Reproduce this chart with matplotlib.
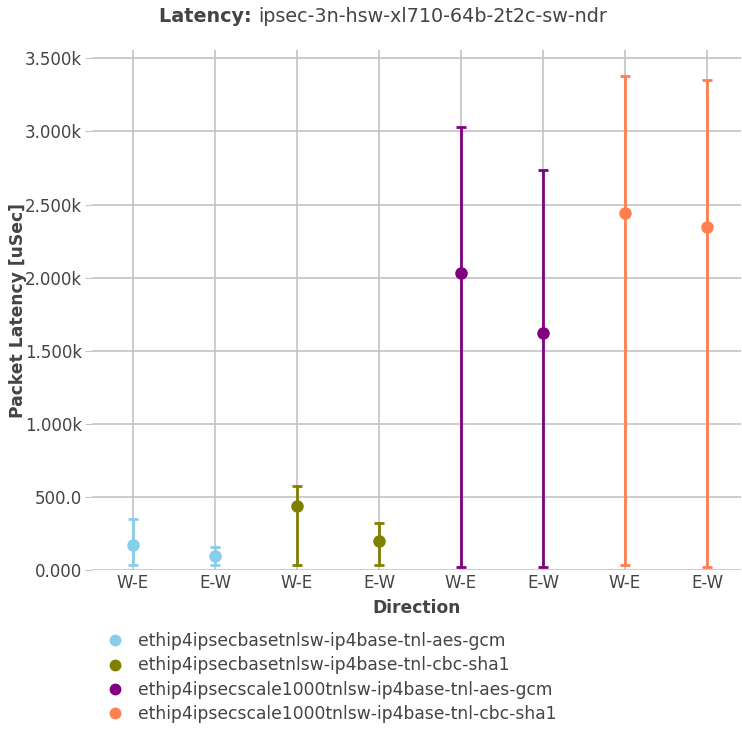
import numpy as np
import matplotlib
matplotlib.use("Agg")
import matplotlib.pyplot as plt

plt.rcParams['font.family'] = ['DejaVu Sans']

directions = ["W-E", "E-W", "W-E", "E-W", "W-E", "E-W", "W-E", "E-W"]
series_names = [
    "ethip4ipsecbasetnlsw-ip4base-tnl-aes-gcm",
    "ethip4ipsecbasetnlsw-ip4base-tnl-cbc-sha1",
    "ethip4ipsecscale1000tnlsw-ip4base-tnl-aes-gcm",
    "ethip4ipsecscale1000tnlsw-ip4base-tnl-cbc-sha1",
]
colors = ["#87ceeb", "#808000", "#800080", "#ff7f50"]
# per series: (W-E, E-W)
avg = [[171, 94], [438, 198], [2031, 1621], [2445, 2343]]
hi = [[349, 160], [575, 324], [3028, 2733], [3379, 3350]]
lo = [[34, 34], [34, 34], [20, 20], [34, 20]]

fig = plt.figure(figsize=(7.42, 7.33), dpi=100)
ax = fig.add_axes([92 / 742, 1 - 570 / 733, 649 / 742, 520 / 733])

grid_c = "#c4c4c4"
for k in range(len(directions)):
    ax.axvline(k, color=grid_c, lw=1.2, zorder=0)
ax.set_yticks([0, 500, 1000, 1500, 2000, 2500, 3000, 3500])
ax.set_yticklabels(["0.000", "500.0", "1.000k", "1.500k", "2.000k", "2.500k", "3.000k", "3.500k"])
ax.yaxis.grid(True, color=grid_c, lw=1.2, zorder=0)
ax.set_axisbelow(True)

for i, name in enumerate(series_names):
    xs = np.array([2 * i, 2 * i + 1])
    a = np.array(avg[i])
    h = np.array(hi[i])
    l = np.array(lo[i])
    ax.errorbar(xs, a, yerr=[a - l, h - a], fmt="o", color=colors[i], ms=8,
                elinewidth=2, capsize=3.5, capthick=2, label=name, zorder=3)

ax.set_xlim(-0.5, 7.415)
ax.set_ylim(0, 3557)
ax.set_xticks(range(len(directions)))
ax.set_xticklabels(directions)
for s in ax.spines.values():
    s.set_visible(False)
ax.tick_params(axis="both", colors="#444444", labelsize=12, length=0)
ax.tick_params(axis="y", length=5, color="#c4c4c4", pad=2)
ax.tick_params(axis="x", pad=3)
ax.set_xlabel("Direction", fontsize=12.3, fontweight="bold", color="#444444")
ax.set_ylabel("Packet Latency [uSec]", fontsize=12.3, fontweight="bold", color="#444444")
ax.xaxis.set_label_coords(0.5, (570 - 608) / 520)
ax.yaxis.set_label_coords((18 - 92) / 649, 0.5)
ax.xaxis.label.set_va("center")
ax.yaxis.label.set_va("center")

handles = [plt.Line2D([], [], marker="o", ls="", color=c, ms=7.5) for c in colors]
leg = fig.legend(handles, series_names, loc="upper left", bbox_to_anchor=(108 / 742, 1 - 632 / 733),
                 frameon=False, fontsize=12.3, handletextpad=0.95, labelspacing=0.38,
                 handlelength=0.8, borderaxespad=0, borderpad=0)
for t in leg.get_texts():
    t.set_color("#444444")

# title: bold prefix + normal rest, centered together
fig.canvas.draw()
r = fig.canvas.get_renderer()
t1 = fig.text(0, 1 - 17 / 733, "Latency: ", fontsize=13.8, fontweight="bold", color="#444444", va="center")
t2 = fig.text(0, 1 - 17 / 733, "ipsec-3n-hsw-xl710-64b-2t2c-sw-ndr", fontsize=13.8, color="#444444", va="center")
w1 = t1.get_window_extent(r).width
w2 = t2.get_window_extent(r).width
cx = 383.5
x0 = cx - (w1 + w2) / 2
t1.set_x(x0 / 742)
t2.set_x((x0 + w1) / 742)

fig.savefig("out.png", dpi=100)
